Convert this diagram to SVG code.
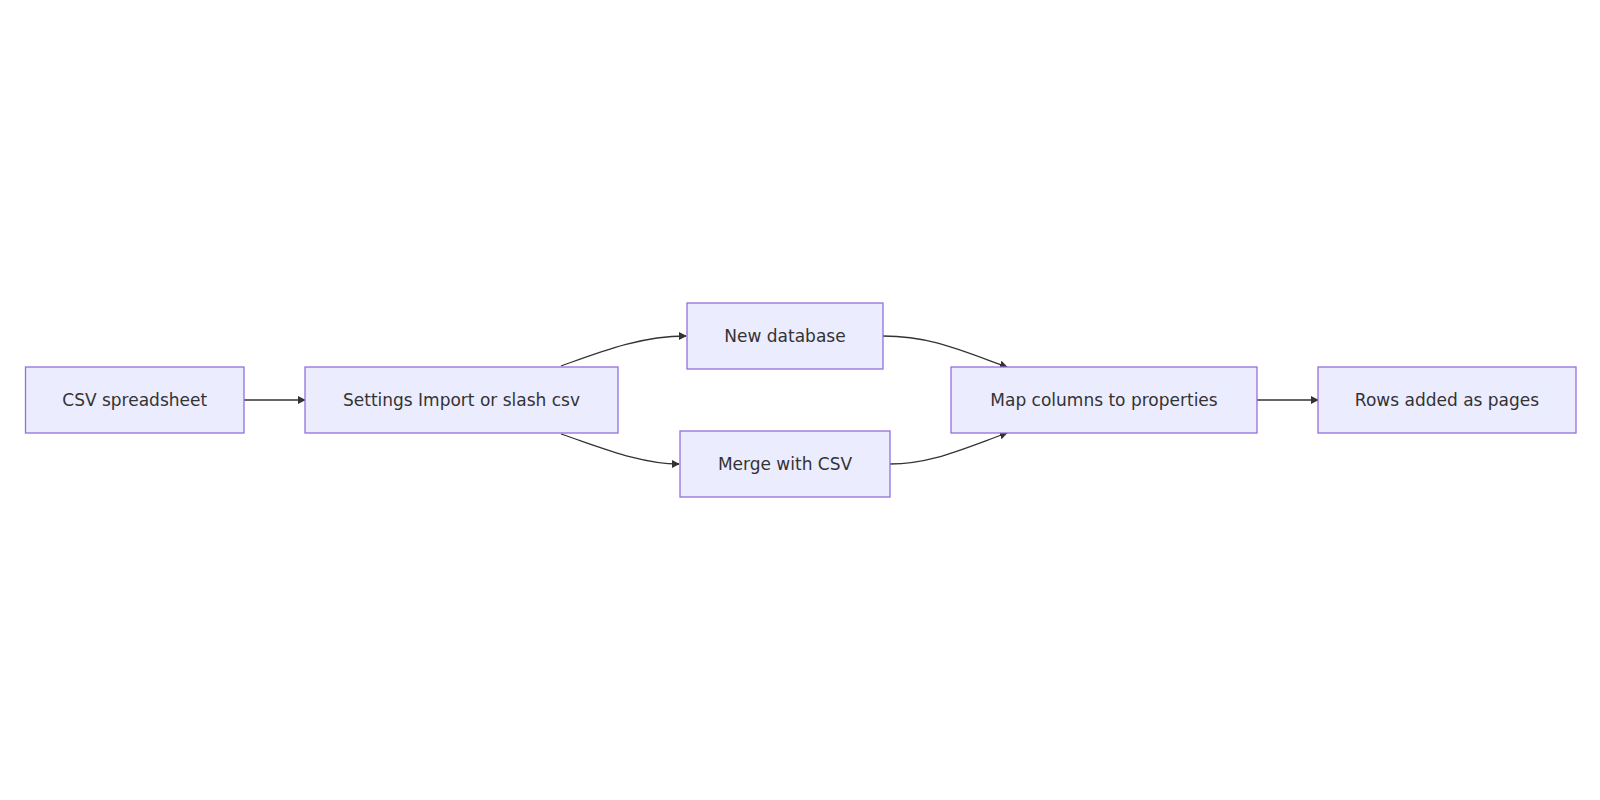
<svg xmlns="http://www.w3.org/2000/svg" width="1600" height="800" viewBox="0 0 1600 800">
<style>
.node rect{fill:#ECECFF;stroke:#9370DB;stroke-width:1.3}
.node text{font-family:"DejaVu Sans","Liberation Sans",sans-serif;font-size:17px;fill:#333;text-anchor:middle;dominant-baseline:central}
.edge{fill:none;stroke:#333;stroke-width:1.3;marker-end:url(#arrow)}
</style>
<defs>
<marker id="arrow" viewBox="0 0 10 10" refX="9" refY="5" markerWidth="8" markerHeight="8" markerUnits="userSpaceOnUse" orient="auto">
<path d="M0,0 L10,5 L0,10 z" fill="#333"/>
</marker>
</defs>
<rect width="1600" height="800" fill="#fff"/>
<g id="connectors">
<path class="edge" d="M244,400 L305,400"/>
<path class="edge" d="M561,366 C600,352 640,336 686,336"/>
<path class="edge" d="M561,434 C600,447 640,464 679,464"/>
<path class="edge" d="M883,336 C930,336 960,350 1007,367"/>
<path class="edge" d="M890,464 C930,464 960,450 1007,433"/>
<path class="edge" d="M1257,400 L1318,400"/>
</g>
<g id="n1" class="node"><rect x="25.5" y="367" width="218.5" height="66"/><text x="134.7" y="400">CSV spreadsheet</text></g>
<g id="n2" class="node"><rect x="305" y="367" width="313" height="66"/><text x="461.5" y="400">Settings Import or slash csv</text></g>
<g id="n3" class="node"><rect x="687" y="303" width="196" height="66"/><text x="785" y="336">New database</text></g>
<g id="n4" class="node"><rect x="680" y="431" width="210" height="66"/><text x="785" y="464">Merge with CSV</text></g>
<g id="n5" class="node"><rect x="951" y="367" width="306" height="66"/><text x="1104" y="400">Map columns to properties</text></g>
<g id="n6" class="node"><rect x="1318" y="367" width="258" height="66"/><text x="1447" y="400">Rows added as pages</text></g>
</svg>
